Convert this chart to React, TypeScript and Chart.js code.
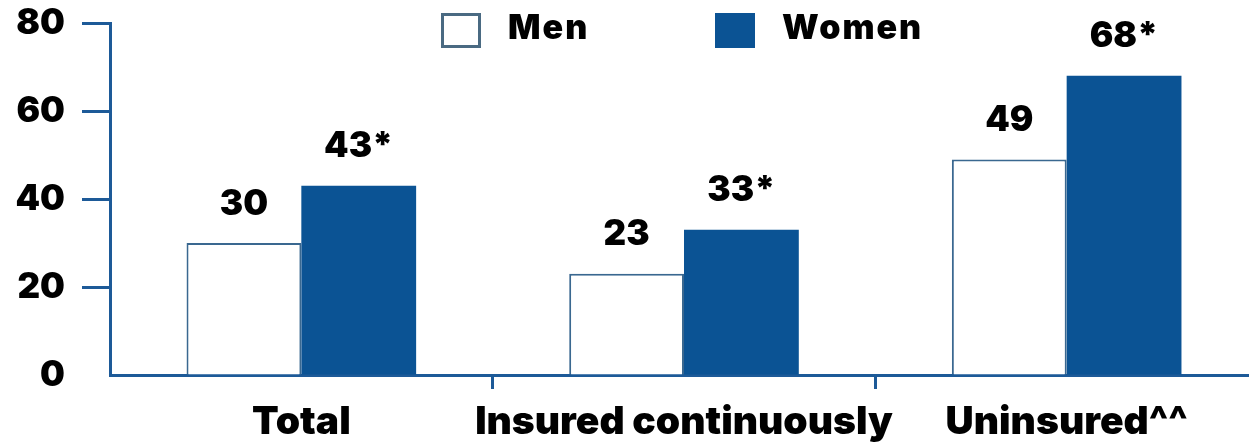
import React, { useEffect, useRef } from "react";
import { Chart, registerables } from "chart.js";

Chart.register(...registerables);

// Chart data
const categories = ["Total", "Insured continuously", "Uninsured^^"];
const menValues = [30, 23, 49];
const womenValues = [43, 33, 68];
const womenMarks = ["*", "*", "*"];
const yTicks = [0, 20, 40, 60, 80];

const AXIS_BLUE = "#1d5a98";
const WOMEN_BLUE = "#0b5394";
const MEN_EDGE = "#3a6890";
const TEXT = "#000000";
const FONT = 'Inter, "DejaVu Sans", Arial, sans-serif';
const WEIGHT = 900;

// Value labels drawn above each bar
const valueLabels = {
  id: "valueLabels",
  afterDatasetsDraw(chart: any) {
    const ctx = chart.ctx;
    ctx.save();
    ctx.font = `${WEIGHT} 35px ${FONT}`;
    ctx.textAlign = "center";
    ctx.textBaseline = "middle";
    ctx.fillStyle = TEXT;
    chart.data.datasets.forEach((ds: any, di: number) => {
      const meta = chart.getDatasetMeta(di);
      meta.data.forEach((bar: any, i: number) => {
        const text = String(ds.data[i]) + (di === 1 ? womenMarks[i] : "");
        ctx.fillText(text, bar.x, bar.y - 39);
      });
    });
    ctx.restore();
  },
};

// Legend with square swatches across the top
const topLegend = {
  id: "topLegend",
  afterDraw(chart: any) {
    const ctx = chart.ctx;
    const items = [
      { label: "Men", x: 441, fill: "#ffffff", stroke: "#4a6a82", text: 508 },
      { label: "Women", x: 715, fill: WOMEN_BLUE, stroke: WOMEN_BLUE, text: 782 },
    ];
    ctx.save();
    items.forEach((it) => {
      ctx.fillStyle = it.fill;
      ctx.fillRect(it.x, 13, 40, 35);
      ctx.lineWidth = 3;
      ctx.strokeStyle = it.stroke;
      ctx.strokeRect(it.x + 1.5, 14.5, 37, 32);
      ctx.font = `${WEIGHT} 34px ${FONT}`;
      (ctx as any).letterSpacing = "2px";
      ctx.textAlign = "left";
      ctx.textBaseline = "middle";
      ctx.fillStyle = TEXT;
      ctx.fillText(it.label, it.text, 29);
    });
    ctx.restore();
  },
};

export default function App() {
  const canvasRef = useRef<HTMLCanvasElement | null>(null);

  useEffect(() => {
    if (!canvasRef.current) return;
    const chart = new Chart(canvasRef.current, {
      type: "bar",
      data: {
        labels: categories,
        datasets: [
          {
            label: "Men",
            data: menValues,
            backgroundColor: "#ffffff",
            borderColor: MEN_EDGE,
            borderWidth: 2,
            categoryPercentage: 0.6,
            barPercentage: 1.0,
          },
          {
            label: "Women",
            data: womenValues,
            backgroundColor: WOMEN_BLUE,
            borderWidth: 0,
            categoryPercentage: 0.6,
            barPercentage: 1.0,
          },
        ],
      },
      options: {
        responsive: false,
        animation: false,
        layout: { padding: { top: 23, right: 0, left: 0, bottom: 0 } },
        plugins: {
          legend: { display: false },
          tooltip: { enabled: false },
        },
        scales: {
          x: {
            grid: {
              offset: true,
              drawOnChartArea: false,
              drawTicks: true,
              tickLength: 14,
              tickWidth: 3,
              tickColor: (c: any) => (c.index === 0 ? "rgba(0,0,0,0)" : AXIS_BLUE),
            },
            border: { display: true, color: AXIS_BLUE, width: 3 },
            ticks: {
              color: TEXT,
              font: { family: FONT, size: 39, weight: WEIGHT },
              padding: 10,
              maxRotation: 0,
              autoSkip: false,
            },
            afterFit: (scale: any) => {
              scale.height = 67;
              scale.paddingLeft = 0;
              scale.paddingRight = 0;
            },
          },
          y: {
            min: 0,
            max: 80,
            afterBuildTicks: (scale: any) => {
              scale.ticks = yTicks.map((v) => ({ value: v }));
            },
            grid: {
              drawOnChartArea: false,
              drawTicks: true,
              tickLength: 28,
              tickWidth: 3,
              tickColor: (c: any) =>
                c.tick && c.tick.value === 0 ? "rgba(0,0,0,0)" : AXIS_BLUE,
            },
            border: { display: true, color: AXIS_BLUE, width: 3 },
            ticks: {
              color: TEXT,
              font: { family: FONT, size: 35, weight: WEIGHT },
              padding: 17,
            },
            afterFit: (scale: any) => {
              scale.width = 110;
              scale.paddingTop = 0;
              scale.paddingBottom = 0;
            },
          },
        },
      },
      plugins: [valueLabels, topLegend],
    });
    return () => chart.destroy();
  }, []);

  return (
    <div
      style={{
        position: "fixed",
        left: 0,
        top: 0,
        width: 1258,
        height: 442,
        background: "#ffffff",
      }}
    >
      <canvas ref={canvasRef} width={1258} height={442} style={{ display: "block" }} />
    </div>
  );
}
